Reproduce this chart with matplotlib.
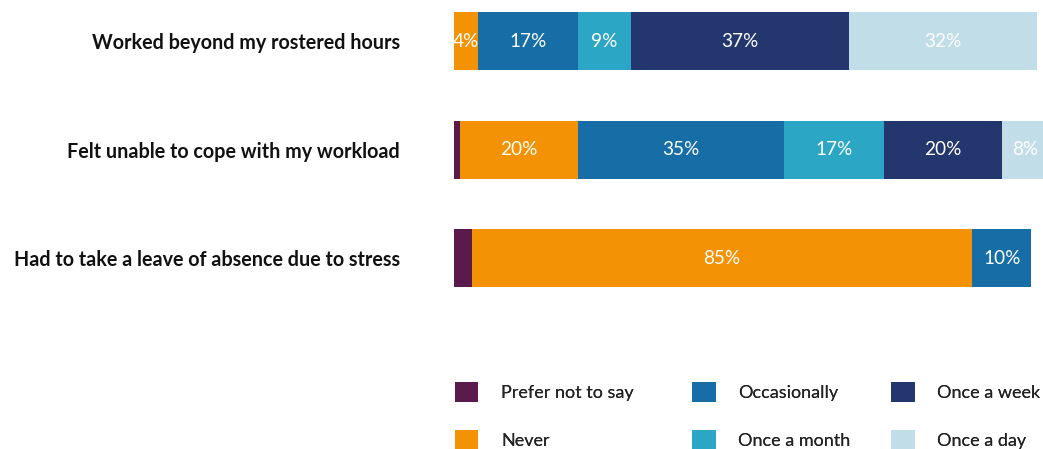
import matplotlib
matplotlib.use("Agg")
import matplotlib.pyplot as plt
from matplotlib.patches import Patch
import numpy as np

plt.rcParams["font.family"] = ["Lato", "DejaVu Sans"]

statements = [
    "Worked beyond my rostered hours",
    "Felt unable to cope with my workload",
    "Had to take a leave of absence due to stress",
]
responses = ["Prefer not to say", "Never", "Occasionally",
             "Once a month", "Once a week", "Once a day"]
prefer_not = [0, 1, 3]
never = [4, 20, 85]
occasionally = [17, 35, 10]
once_month = [9, 17, 0]
once_week = [37, 20, 0]
once_day = [32, 8, 0]
series = [prefer_not, never, occasionally, once_month, once_week, once_day]
colors = ["#5a1a4b", "#f39205", "#176ea6", "#2ca6c5", "#23366e", "#c1dde8"]

fig = plt.figure(figsize=(10.43, 4.49), dpi=100)
ax = fig.add_axes([0.4353, 0.328, 0.5647, 0.672])

y = np.arange(len(statements))
left = np.zeros(len(statements))
for vals, col in zip(series, colors):
    vals = np.array(vals, dtype=float)
    ax.barh(y, vals, left=left, height=0.535, color=col, edgecolor="none")
    for yi, v, l in zip(y, vals, left):
        if v >= 4:
            ax.text(l + v / 2, yi, f"{int(v)}%", ha="center", va="center",
                    color="white", fontsize=13.7)
    left += vals

ax.set_xlim(0, 100)
ax.set_ylim(2.4, -0.38)
ax.set_yticks(y)
ax.set_yticklabels(statements, fontsize=14.2, fontweight="bold", color="#111111")
ax.tick_params(axis="y", length=0, pad=39)
ax.set_xticks([])
for s in ax.spines.values():
    s.set_visible(False)

# legend: three columns of two entries each
handles = [Patch(facecolor=c, edgecolor="none") for c in colors]
col_x = [0.4362, 0.6635, 0.8543]
for i, x0 in enumerate(col_x):
    leg = fig.legend(handles[2 * i:2 * i + 2], responses[2 * i:2 * i + 2],
                     loc="upper left", bbox_to_anchor=(x0, 0.149),
                     frameon=False, fontsize=13, handlelength=1.3,
                     handleheight=1.3, handletextpad=1.25, labelspacing=1.58,
                     borderpad=0, borderaxespad=0)
    for t in leg.get_texts():
        t.set_color("#222222")
    fig.add_artist(leg)

fig.savefig("out.png", dpi=100)
